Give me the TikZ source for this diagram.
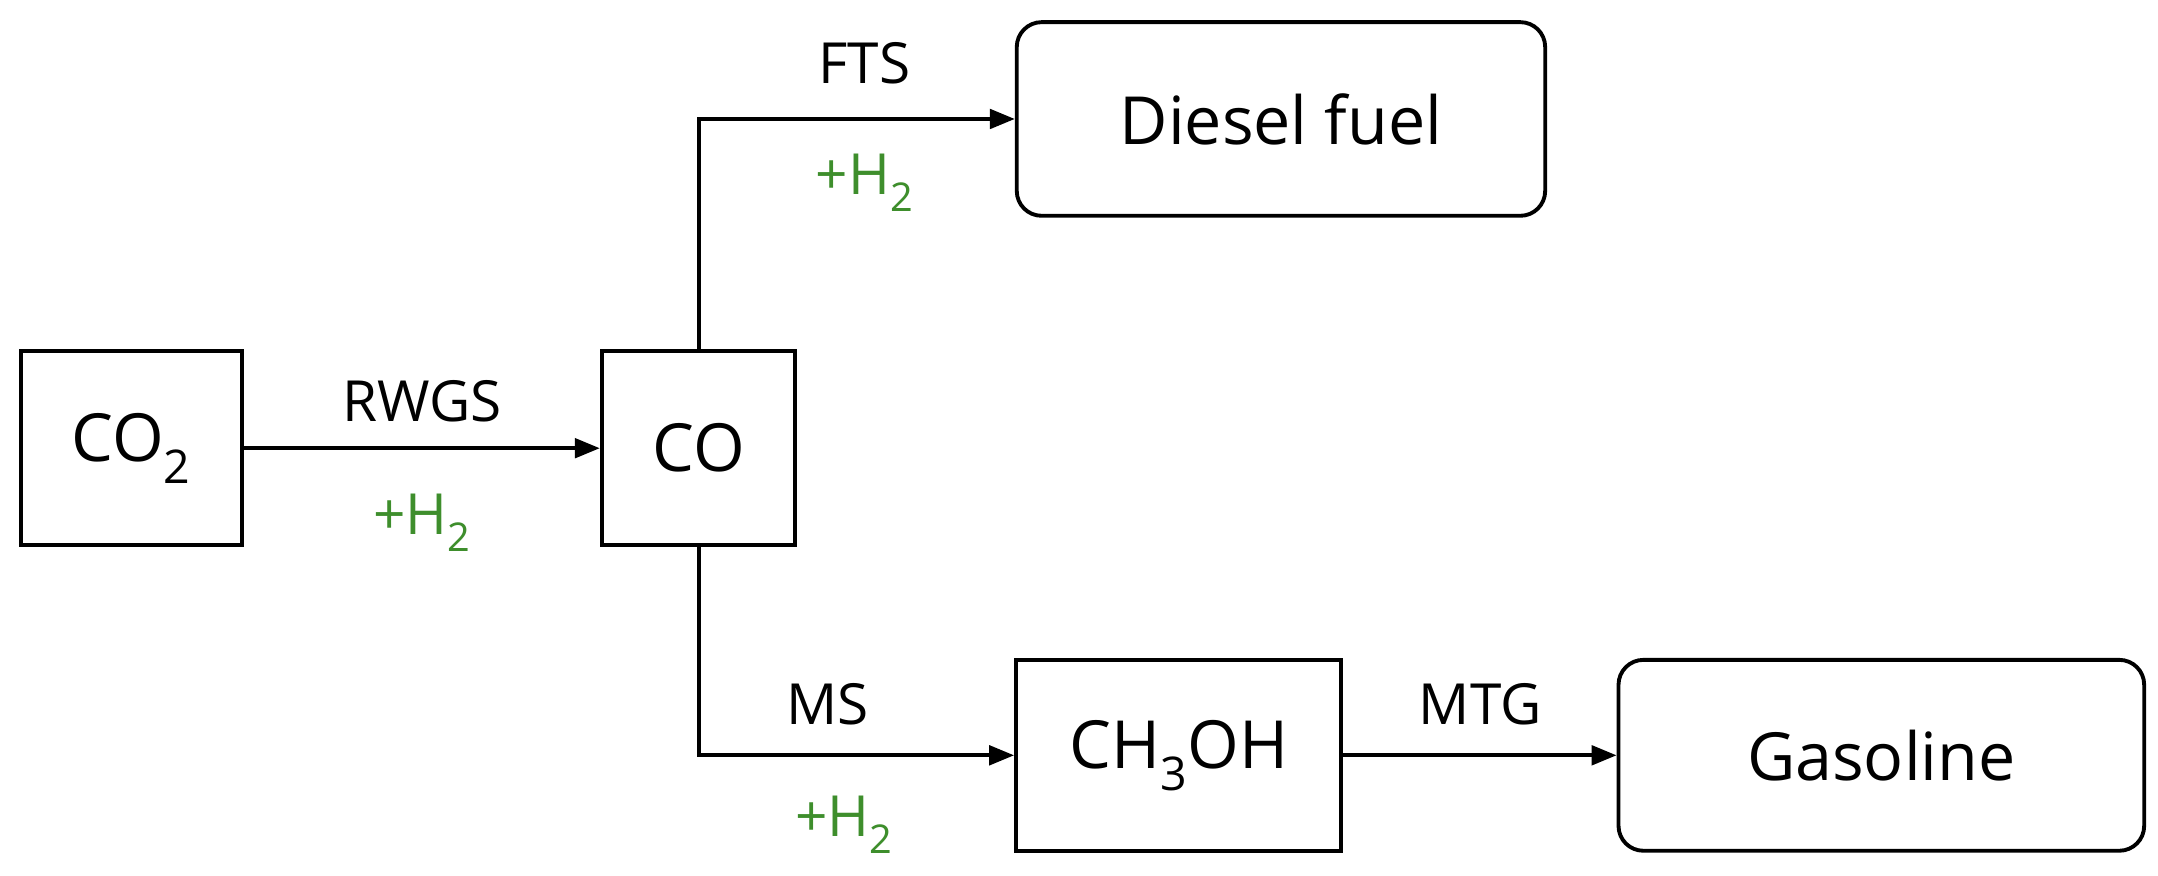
\documentclass[tikz,border=0pt]{standalone}
\usepackage{fontspec}
\setmainfont{Open Sans}
\usetikzlibrary{arrows.meta}
\definecolor{grn}{HTML}{3E8E2C}
\begin{document}
\begin{tikzpicture}[x=1pt,y=-1pt,
  box/.style={draw,line width=2.8pt,inner sep=0pt,font=\fontsize{48}{54}\selectfont},
  lbl/.style={font=\fontsize{41}{48}\selectfont},
  glbl/.style={lbl,text=grn},
  arr/.style={line width=2.8pt,-{Triangle[length=18pt,width=14pt]}}]
\useasboundingbox (0,0) rectangle (1560,633);
\node[box,minimum width=160pt,minimum height=140pt] (co2) at (95,324) {CO\textsubscript{2}};
\node[box,minimum width=140pt,minimum height=140pt] (co) at (505,324) {CO};
\node[box,rounded corners=18pt,minimum width=382pt,minimum height=140pt] (dsl) at (926,86) {Diesel fuel};
\node[box,minimum width=235pt,minimum height=138pt] (meoh) at (852,546) {CH\textsubscript{3}OH};
\node[box,rounded corners=18pt,minimum width=380pt,minimum height=138pt] (gas) at (1360,546) {Gasoline};
\draw[arr] (co2) -- (co);
\draw[arr] (co.north) |- (dsl.west);
\draw[arr] (co.south) |- (meoh.west);
\draw[arr] (meoh) -- (gas);
\node[lbl] (l1) at (305,290) {RWGS};
\node[glbl] (g1) at (305,378) {+H\textsubscript{2}};
\node[lbl] (l2) at (625,46) {FTS};
\node[glbl] (g2) at (625,132) {+H\textsubscript{2}};
\node[lbl] (l3) at (598,509) {MS};
\node[glbl] (g3) at (610,596) {+H\textsubscript{2}};
\node[lbl] (l4) at (1070,509) {MTG};
\end{tikzpicture}
\end{document}
